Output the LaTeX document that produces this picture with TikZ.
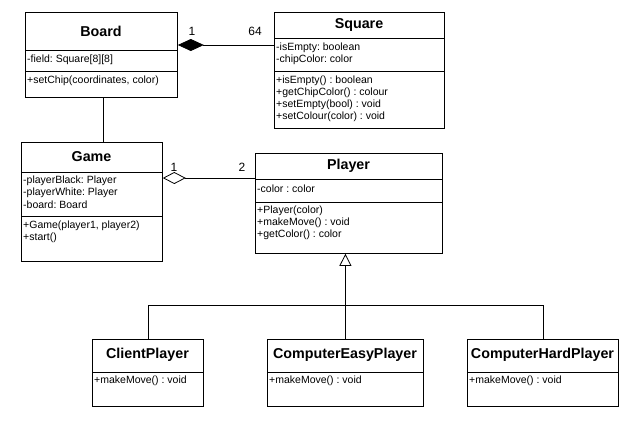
\documentclass[tikz,border=0pt]{standalone}
\usepackage{fontspec}
\setmainfont{Liberation Sans}
\usetikzlibrary{arrows.meta}
\frenchspacing
\begin{document}
\begin{tikzpicture}[x=1pt,y=-1pt,
  classbox/.style={draw=black, line width=0.8pt, fill=white, anchor=north west, inner sep=0pt},
  divider/.style={line width=0.8pt},
  ctitle/.style={font=\fontsize{14.3}{16}\selectfont\bfseries, inner sep=0pt},
  member/.style={font=\fontsize{10.5}{12}\selectfont, anchor=west, inner sep=0pt},
  mult/.style={font=\fontsize{12}{14}\selectfont, inner sep=0pt},
  link/.style={line width=0.8pt}
]
\useasboundingbox[fill=white] (0,0) rectangle (644,424);

% Board
\node[classbox, minimum width=152, minimum height=85] (board) at (25,12) {};
\draw[divider] (25,50) -- (177,50);
\draw[divider] (25,71) -- (177,71);
\node[ctitle] (boardT) at (101,31) {Board};
\node[member] (boardA1) at (27,60) {-field: Square[8][8]};
\node[member] (boardM1) at (27,81) {+setChip(coordinates, color)};

% Square
\node[classbox, minimum width=170, minimum height=116] (square) at (274,12) {};
\draw[divider] (274,38) -- (444,38);
\draw[divider] (274,71) -- (444,71);
\node[ctitle] (squareT) at (359,25) {Square};
\node[member] (squareA1) at (276,48) {-isEmpty: boolean};
\node[member] (squareA2) at (276,60) {-chipColor: color};
\node[member] (squareM1) at (276,81) {+isEmpty() : boolean};
\node[member] (squareM2) at (276,93) {+getChipColor() : colour};
\node[member] (squareM3) at (276,105) {+setEmpty(bool) : void};
\node[member] (squareM4) at (276,117) {+setColour(color) : void};

% Game
\node[classbox, minimum width=141, minimum height=119] (game) at (21,142) {};
\draw[divider] (21,172) -- (162,172);
\draw[divider] (21,216) -- (162,216);
\node[ctitle] (gameT) at (91.5,157) {Game};
\node[member] (gameA1) at (23,181) {-playerBlack: Player};
\node[member] (gameA2) at (23,193) {-playerWhite: Player};
\node[member] (gameA3) at (23,205) {-board: Board};
\node[member] (gameM1) at (23,226) {+Game(player1, player2)};
\node[member] (gameM2) at (23,238) {+start()};

% Player
\node[classbox, minimum width=187, minimum height=100] (player) at (255,153) {};
\draw[divider] (255,179) -- (442,179);
\draw[divider] (255,202) -- (442,202);
\node[ctitle] (playerT) at (348.5,166) {Player};
\node[member] (playerA1) at (257,189) {-color : color};
\node[member] (playerM1) at (257,211) {+Player(color)};
\node[member] (playerM2) at (257,223) {+makeMove() : void};
\node[member] (playerM3) at (257,235) {+getColor() : color};

% Subclasses
\node[classbox, minimum width=111, minimum height=67] (client) at (92,339) {};
\draw[divider] (92,372) -- (203,372);
\node[ctitle] (clientT) at (147.5,355) {ClientPlayer};
\node[member] (clientM1) at (94,381) {+makeMove() : void};

\node[classbox, minimum width=156, minimum height=67] (easy) at (267,339) {};
\draw[divider] (267,372) -- (423,372);
\node[ctitle] (easyT) at (345,355) {ComputerEasyPlayer};
\node[member] (easyM1) at (269,381) {+makeMove() : void};

\node[classbox, minimum width=151, minimum height=67] (hard) at (467,339) {};
\draw[divider] (467,372) -- (618,372);
\node[ctitle] (hardT) at (542.5,355) {ComputerHardPlayer};
\node[member] (hardM1) at (469,381) {+makeMove() : void};

% Composition Board <>-- Square
\draw[link, -{Diamond[fill=black, length=26pt, width=12pt]}] (square.west |- 0,45) -- (board.east |- 0,45);
\node[mult] (m1) at (192,31) {1};
\node[mult] (m64) at (255,31) {64};

% Board -- Game
\draw[link] (board.south -| 103,0) -- (game.north -| 103,0);

% Aggregation Game <>-- Player
\draw[link, -{Diamond[open, length=23pt, width=12pt]}] (player.west |- 0,178) -- (game.east |- 0,178);
\node[mult] (m2) at (174,167) {1};
\node[mult] (m3) at (242,167) {2};

% Generalization
\coordinate (bus) at (345,305);
\draw[link, -{Triangle[open, length=12pt, width=12pt]}] (easy.north) -- (easy.north |- player.south);
\draw[link] (client.north) -- (client.north |- bus) -- (hard.north |- bus) -- (hard.north);
\end{tikzpicture}
\end{document}
